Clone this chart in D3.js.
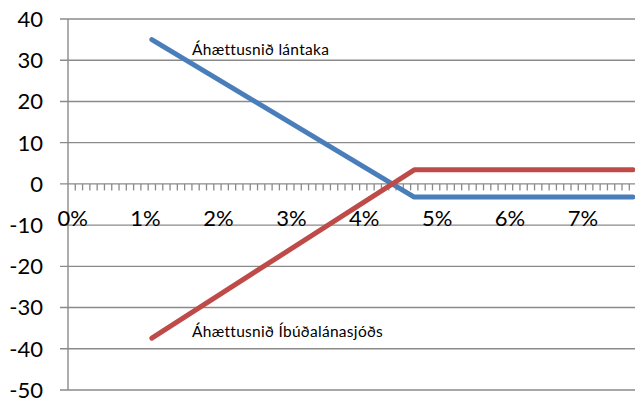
<!DOCTYPE html>
<html>
<head>
<meta charset="utf-8">
<script src="https://cdn.jsdelivr.net/npm/d3@7"></script>
<style>
  body { margin: 0; background: #fff; }
  svg { display: block; }
</style>
</head>
<body>
<svg></svg>
<script>
// x values are interest rates in %, categories in 0.1% steps
var xLabels = ["0%", "1%", "2%", "3%", "4%", "5%", "6%", "7%"]
var xLabelValues = [0, 1, 2, 3, 4, 5, 6, 7]
var yTicks = [40, 30, 20, 10, 0, -10, -20, -30, -40, -50]

// kink points
var rates = [1.1, 4.7, 7.7]
var lantakaValues = [35, -3.2, -3.2]
var ibudalanValues = [-37.4, 3.4, 3.4]

var seriesNames = ["Áhættusnið lántaka", "Áhættusnið Íbúðalánasjóðs"]
var seriesColors = ["#4a7ebb", "#be4b48"]

var width = 635
var height = 403

var svg = d3.select('svg').attr('width', width).attr('height', height)

var x = d3.scaleLinear().domain([-0.05, 7.75]).range([68, 636.6])
var y = d3.scaleLinear().domain([-50, 40]).range([390, 19])

var gridColor = "#8a8a8a"
var font = "Lato, 'Open Sans', sans-serif"

// horizontal gridlines with small outer ticks
svg.append("g")
  .selectAll("line")
  .data(yTicks)
  .enter().append("line")
    .attr("x1", 60)
    .attr("x2", width)
    .attr("y1", function (d) { return y(d) })
    .attr("y2", function (d) { return y(d) })
    .attr("stroke", gridColor)
    .attr("stroke-width", 1.4)

// y axis line
svg.append("line")
  .attr("x1", x(-0.05)).attr("x2", x(-0.05))
  .attr("y1", y(40)).attr("y2", y(-50))
  .attr("stroke", gridColor)
  .attr("stroke-width", 1.4)

// y labels
svg.append("g")
  .selectAll("text")
  .data(yTicks)
  .enter().append("text")
    .text(function (d) { return d })
    .attr("x", 43)
    .attr("y", function (d) { return y(d) })
    .attr("dy", "0.36em")
    .attr("text-anchor", "end")
    .attr("font-family", font)
    .attr("font-size", 22)
    .attr("fill", "#000")

// minor ticks between 0.1% categories
var minorTicks = d3.range(1, 78).map(function (k) { return k / 10 - 0.05 })
svg.append("g")
  .selectAll("line")
  .data(minorTicks)
  .enter().append("line")
    .attr("x1", function (d) { return x(d) })
    .attr("x2", function (d) { return x(d) })
    .attr("y1", y(0))
    .attr("y2", y(0) + 6.5)
    .attr("stroke", gridColor)
    .attr("stroke-width", 1.3)

// x labels
svg.append("g")
  .selectAll("text")
  .data(xLabelValues)
  .enter().append("text")
    .text(function (d, i) { return xLabels[i] })
    .attr("x", function (d) { return x(d) + 1 })
    .attr("y", 226)
    .attr("text-anchor", "middle")
    .attr("font-family", font)
    .attr("font-size", 22)
    .attr("fill", "#000")

// series lines
var line = d3.line()
  .x(function (d) { return x(d[0]) })
  .y(function (d) { return y(d[1]) })

var series = [
  rates.map(function (r, i) { return [r, lantakaValues[i]] }),
  rates.map(function (r, i) { return [r, ibudalanValues[i]] })
]

svg.append("g")
  .selectAll("path")
  .data(series)
  .enter().append("path")
    .attr("d", line)
    .attr("fill", "none")
    .attr("stroke", function (d, i) { return seriesColors[i] })
    .attr("stroke-width", 5)
    .attr("stroke-linecap", "round")
    .attr("stroke-linejoin", "round")

// series annotations
var labelPos = [[192, 55], [192, 337]]
svg.append("g")
  .selectAll("text")
  .data(seriesNames)
  .enter().append("text")
    .text(function (d) { return d })
    .attr("x", function (d, i) { return labelPos[i][0] })
    .attr("y", function (d, i) { return labelPos[i][1] })
    .attr("font-family", font)
    .attr("font-size", 15.5)
    .attr("letter-spacing", 0.3)
    .attr("fill", "#000")
</script>
</body>
</html>
